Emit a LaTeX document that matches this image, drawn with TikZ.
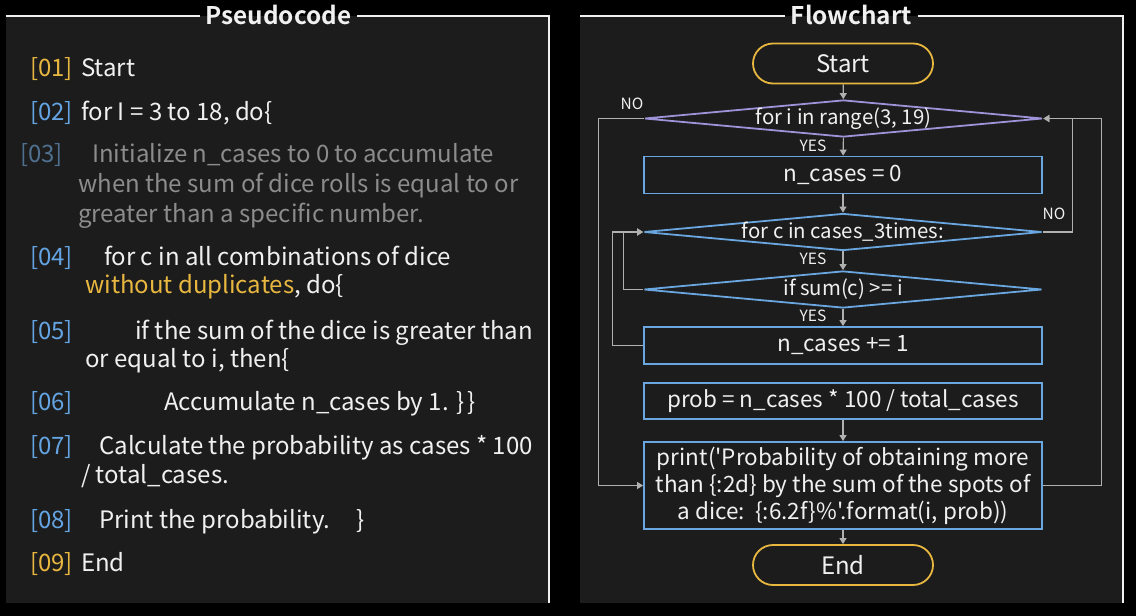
\documentclass[tikz,border=0pt]{standalone}
\usepackage{fontspec}
\newfontfamily\nf{Noto Sans CJK JP}
\newfontfamily\nfb{Noto Sans CJK JP Bold}
\usetikzlibrary{shapes.geometric,arrows.meta}
\definecolor{panel}{HTML}{1C1C1C}
\definecolor{fg}{HTML}{F0F0F0}
\definecolor{gold}{HTML}{E8B740}
\definecolor{lblue}{HTML}{64A4E2}
\definecolor{dimblue}{HTML}{50708F}
\definecolor{dimgray}{HTML}{8C8C8C}
\definecolor{boxblue}{HTML}{6AA6E0}
\definecolor{lav}{HTML}{9E92D8}
\definecolor{conn}{HTML}{B0B0B0}
\tikzset{
  frame/.style={draw=fg, line width=1.6pt},
  titletxt/.style={text=fg, font=\nfb\fontsize{24.3}{28}\selectfont, inner xsep=6pt, inner ysep=0pt},
  code/.style={anchor=base west, inner sep=0pt, text=fg, font=\nf\fontsize{24}{29}\selectfont},
  term/.style={draw=gold, line width=1.8pt, rounded corners=20pt, minimum width=180pt, minimum height=40pt, inner sep=0pt, text=fg, font=\nf\fontsize{24}{29}\selectfont},
  procbox/.style={draw=boxblue, line width=1.8pt, minimum width=398pt, inner sep=0pt, text=fg, font=\nf\fontsize{22.5}{27}\selectfont, align=center},
  decide/.style={diamond, draw=boxblue, line width=1.8pt, minimum width=398pt, minimum height=37pt, inner sep=0pt},
  dtext/.style={text=fg, inner sep=0pt, font=\nf\fontsize{20.4}{25}\selectfont},
  yn/.style={text=fg, inner sep=0pt, font=\nf\fontsize{15.5}{17}\selectfont},
  link/.style={draw=conn, line width=1.1pt},
  arr/.style={link, -{Triangle[width=7pt,length=6pt]}},
}
\begin{document}
\begin{tikzpicture}[x=1pt,y=-1pt]
\useasboundingbox[fill=black] (0,0) rectangle (1136,616);
\fill[panel] (6,16) rectangle (550,603);
\fill[panel] (580,16) rectangle (1124,603);
% titles and frames
\node[titletxt, anchor=base] (pt) at (278.5,24) {Pseudocode};
\draw[frame] (6,16) -- (pt.west |- 0,16);
\draw[frame] (pt.east |- 0,16) -- (549,16) -- (549,603);
\node[titletxt, anchor=base] (ft) at (851.5,24) {Flowchart};
\draw[frame] (580,16) -- (ft.west |- 0,16);
\draw[frame] (ft.east |- 0,16) -- (1123,16) -- (1123,603);
% pseudocode
\node[code,text=gold] (l1) at (30,76) {[01]};
\node[code] (t1) at (81,76) {Start};
\node[code,text=lblue] (l2) at (30,120) {[02]};
\node[code] (t2) at (81,120) {for I = 3 to 18, do\{};
\node[code,text=dimblue] (l3) at (20,162) {[03]};
\node[code,text=dimgray] (t3a) at (92,162) {Initialize n\_cases to 0 to accumulate};
\node[code,text=dimgray] (t3b) at (78,192) {when the sum of dice rolls is equal to or};
\node[code,text=dimgray] (t3c) at (78,222) {greater than a specific number.};
\node[code,text=lblue] (l4) at (30,265) {[04]};
\node[code] (t4a) at (104,265) {for c in all combinations of dice};
\node[code] (t4b) at (85,293) {\textcolor{gold}{without duplicates}, do\{};
\node[code,text=lblue] (l5) at (30,339) {[05]};
\node[code] (t5a) at (135,339) {if the sum of the dice is greater than};
\node[code] (t5b) at (85,367) {or equal to i, then\{};
\node[code,text=lblue] (l6) at (30,410) {[06]};
\node[code] (t6) at (164,410) {Accumulate n\_cases by 1.\hspace{8pt}\}\hspace{3pt}\}};
\node[code,text=lblue] (l7) at (30,454) {[07]};
\node[code] (t7a) at (99,454) {Calculate the probability as cases * 100};
\node[code] (t7b) at (81,483) {/ total\_cases.};
\node[code,text=lblue] (l8) at (30,528) {[08]};
\node[code] (t8) at (99,528) {Print the probability.\hspace{26pt}\}};
\node[code,text=gold] (l9) at (30,571) {[09]};
\node[code] (t9) at (81,571) {End};
% flowchart
\node[term] (start) at (843,63.5) {Start};
\node[decide, draw=lav] (d1) at (843.5,118.5) {};
\node[dtext] (d1t) at (d1.center) {for i in range(3, 19)};
\node[procbox, minimum height=37pt] (b1) at (843,175) {n\_cases = 0};
\node[decide] (d2) at (843,232) {};
\node[dtext] (d2t) at (d2.center) {for c in cases\_3times:};
\node[decide] (d3) at (843,289.5) {};
\node[dtext] (d3t) at (d3.center) {if sum(c) >= i};
\node[procbox, minimum height=37pt] (b2) at (843,345.5) {n\_cases += 1};
\node[procbox, minimum height=36pt] (b3) at (843,401) {prob = n\_cases * 100 / total\_cases};
\node[procbox, minimum height=87pt] (b4) at (843,485.5) {print('Probability of obtaining more\\than \{:2d\} by the sum of the spots of\\a dice:\ \ \{:6.2f\}\%'.format(i, prob))};
\node[term] (end) at (843,565) {End};
% connectors
\draw[arr] (start) -- (d1);
\draw[arr] (d1) -- (b1);
\draw[arr] (b1) -- (d2);
\draw[arr] (d2) -- (d3);
\draw[arr] (d3) -- (b2);
\draw[arr] (b3) -- (b4);
\draw[arr] (b4) -- (end);
\draw[arr] (d1.west) -- ++(-45,0) |- (b4.west);
\draw[arr] (d3.west) -- ++(-20,0) |- (d2.west);
\draw[arr] (b2.west) -- ++(-31,0) |- (d2.west);
\draw[arr] (d2.east) -- ++(30,0) |- (d1.east);
\draw[arr] (b4.east) -- ++(59,0) |- (d1.east);
% labels
\node[yn] (no1) at (632,104) {NO};
\node[yn] (no2) at (1054,213.5) {NO};
\node[yn] (yes1) at (813,146) {YES};
\node[yn] (yes2) at (813,259) {YES};
\node[yn] (yes3) at (813,316) {YES};
\end{tikzpicture}
\end{document}
